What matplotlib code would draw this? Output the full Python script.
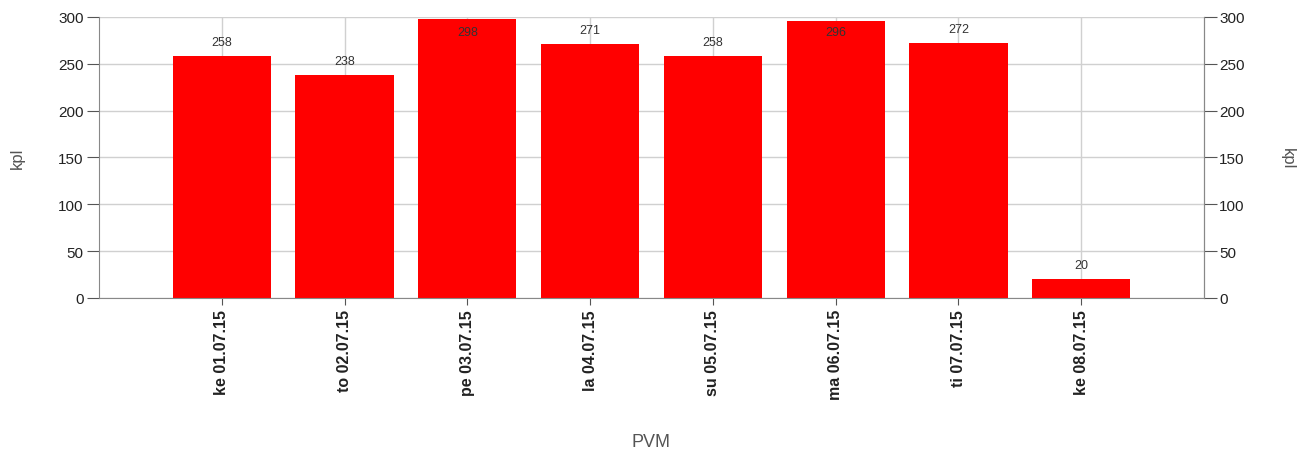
import numpy as np
import matplotlib.pyplot as plt

days = ["ke 01.07.15", "to 02.07.15", "pe 03.07.15", "la 04.07.15",
        "su 05.07.15", "ma 06.07.15", "ti 07.07.15", "ke 08.07.15"]
counts = [258, 238, 298, 271, 258, 296, 272, 20]

plt.rcParams['font.family'] = ['Liberation Sans', 'DejaVu Sans']

fig = plt.figure(figsize=(13.07, 4.52), dpi=100)
ax = fig.add_axes([0.0757, 0.3385, 0.8455, 0.6217])
x = np.arange(len(days))
ax.bar(x, counts, width=0.8, color='#ff0000', zorder=2)

ymax = 300
for xi, v in zip(x, counts):
    if v + 18 > ymax:
        ax.annotate(str(v), (xi, ymax), xytext=(0, -11), textcoords='offset points',
                    ha='center', va='center', fontsize=9, color='#333333', zorder=3)
    else:
        ax.annotate(str(v), (xi, v), xytext=(0, 10), textcoords='offset points',
                    ha='center', va='center', fontsize=9, color='#333333', zorder=3)

ax.set_xlim(-1, len(days))
ax.set_ylim(0, ymax)
ax.set_yticks(range(0, 301, 50))
ax.set_xticks(x)
ax.set_xticklabels(days, rotation=90, fontweight='bold', fontsize=11.5, color='#222222')
ax.grid(True, color='#d0d0d0', linewidth=1, zorder=0)
ax.set_axisbelow(True)

ax.spines['top'].set_visible(False)
for s in ['left', 'bottom', 'right']:
    ax.spines[s].set_color('#888888')

ax.tick_params(axis='y', length=9, color='#555555', labelsize=11, labelcolor='#222222', pad=2)
ax.tick_params(axis='x', length=5, color='#555555', pad=3)

ax2 = ax.twinx()
ax2.set_ylim(0, ymax)
ax2.set_yticks(range(0, 301, 50))
ax2.tick_params(axis='y', length=9, color='#555555', labelsize=11, labelcolor='#222222', pad=2)
for s in ['top', 'left', 'bottom']:
    ax2.spines[s].set_visible(False)
ax2.spines['right'].set_color('#888888')

ax.set_ylabel("kpl", fontsize=12, color='#555555', labelpad=24)
ax2.set_ylabel("kpl", fontsize=12, color='#555555', rotation=270, labelpad=36)
ax.set_xlabel("PVM", fontsize=13, color='#555555', labelpad=24)

fig.savefig("out.png", dpi=100)
